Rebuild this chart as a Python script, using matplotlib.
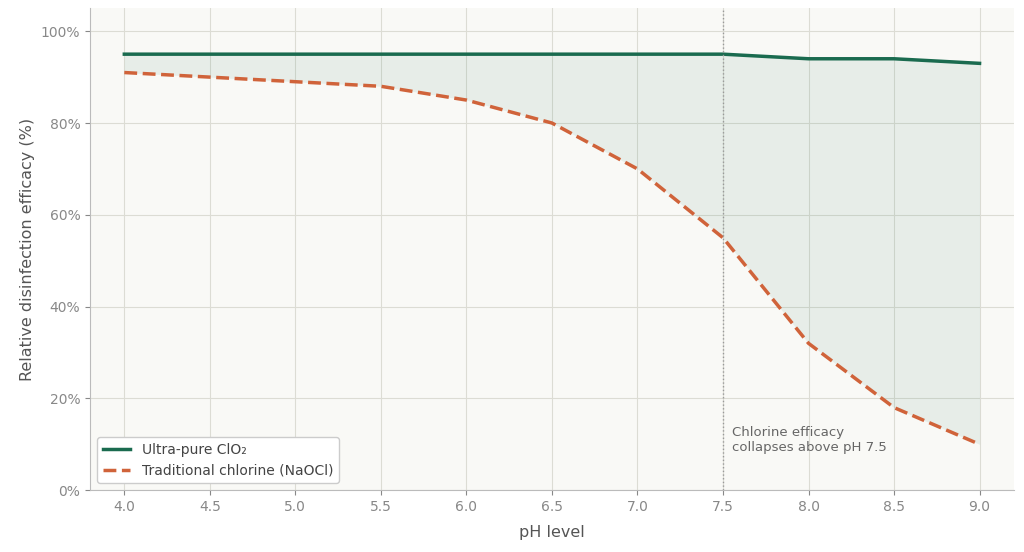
import matplotlib.pyplot as plt
from matplotlib.ticker import FuncFormatter

ph = [4.0, 4.5, 5.0, 5.5, 6.0, 6.5, 7.0, 7.5, 8.0, 8.5, 9.0]
clo2 = [95, 95, 95, 95, 95, 95, 95, 95, 94, 94, 93]
chlorine = [91, 90, 89, 88, 85, 80, 70, 55, 32, 18, 10]

fig, ax = plt.subplots(figsize=(10.24, 5.52), dpi=100)
fig.patch.set_facecolor('white')
ax.set_facecolor('#f9f9f6')

ax.fill_between(ph, chlorine, clo2, color='#1a6b4f', alpha=0.08, linewidth=0)
ax.plot(ph, clo2, color='#1a6b4f', linewidth=2.5, label='Ultra-pure ClO₂')
ax.plot(ph, chlorine, color='#d0633a', linewidth=2.5, linestyle='--', label='Traditional chlorine (NaOCl)')

ax.axvline(7.5, color='#999999', linestyle=':', linewidth=1)
ax.text(7.55, 14, 'Chlorine efficacy\ncollapses above pH 7.5', fontsize=9.5,
        color='#666666', va='top')

ax.set_xlim(3.8, 9.2)
ax.set_ylim(0, 105)
ax.set_xticks(ph)
ax.set_yticks([0, 20, 40, 60, 80, 100])
ax.yaxis.set_major_formatter(FuncFormatter(lambda v, p: f'{v:.0f}%'))
ax.grid(True, color='#dcdcd4', linewidth=0.8)
ax.set_axisbelow(True)
for s in ['top', 'right']:
    ax.spines[s].set_visible(False)
for s in ['left', 'bottom']:
    ax.spines[s].set_color('#bbbbbb')
ax.tick_params(colors='#888888', labelsize=10)
ax.set_xlabel('pH level', fontsize=11.5, color='#555555', labelpad=8)
ax.set_ylabel('Relative disinfection efficacy (%)', fontsize=11.5, color='#555555')

leg = ax.legend(loc='lower left', fontsize=10, frameon=True, framealpha=1,
                edgecolor='#cccccc', facecolor='white')
for t in leg.get_texts():
    t.set_color('#444444')

plt.subplots_adjust(left=0.088, right=0.99, top=0.985, bottom=0.112)
plt.savefig('out.png', dpi=100)
